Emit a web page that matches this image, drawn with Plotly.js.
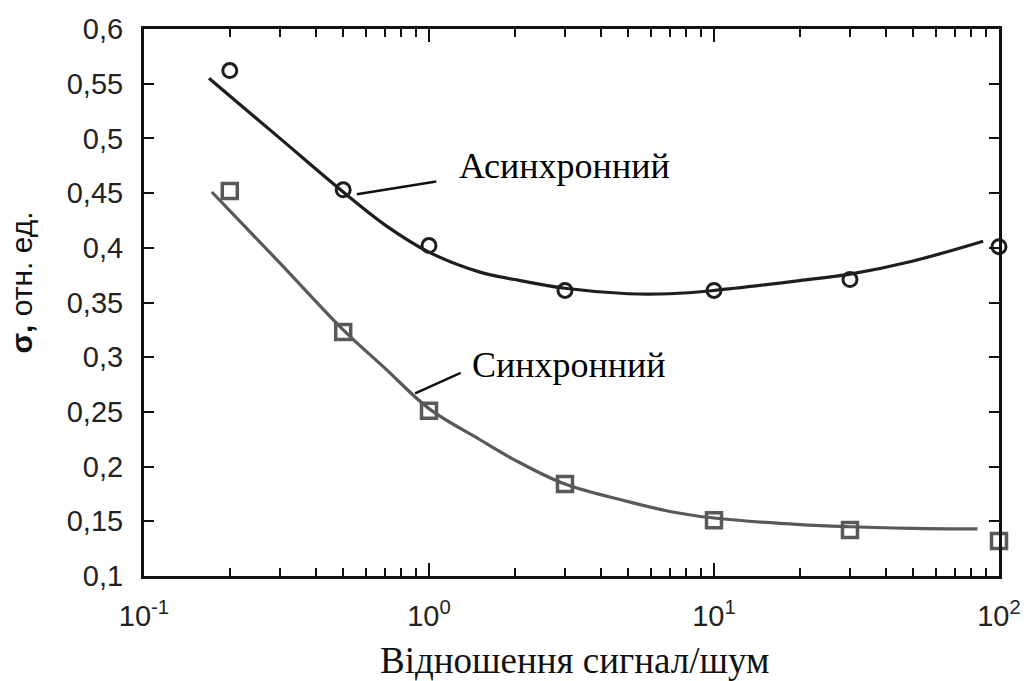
<!DOCTYPE html>
<html>
<head>
<meta charset="utf-8">
<script src="https://cdn.plot.ly/plotly-3.0.1.min.js"></script>
<style>html,body{margin:0;padding:0;background:#fff;}#chart{width:1028px;height:681px;}</style>
</head>
<body>
<div id="chart"></div>
<script>
// Measured points
const snr = [0.2, 0.5, 1, 3, 10, 30, 100];
const asyncPts = [0.562, 0.453, 0.402, 0.361, 0.361, 0.371, 0.401];
const syncPts = [0.452, 0.323, 0.251, 0.184, 0.151, 0.142, 0.132];

// Fitted curves
const asyncCurveX = [0.169, 0.3, 0.5, 0.7, 1, 1.5, 2, 3, 5, 7, 10, 20, 30, 50, 88];
const asyncCurveY = [0.555, 0.50, 0.451, 0.421, 0.396, 0.378, 0.371, 0.363, 0.358, 0.358, 0.361, 0.370, 0.376, 0.388, 0.406];
const syncCurveX = [0.173, 0.3, 0.5, 0.7, 1, 1.5, 2, 3, 5, 7, 10, 20, 30, 50, 84];
const syncCurveY = [0.451, 0.386, 0.325, 0.290, 0.253, 0.225, 0.206, 0.184, 0.168, 0.159, 0.153, 0.147, 0.145, 0.1435, 0.143];

// Ticks
const xTickVals = [0.1, 1, 10, 100];
const xTickText = ['10<sup>-1</sup>', '10<sup>0</sup>', '10<sup>1</sup>', '10<sup>2</sup>'];
const xMinorVals = [0.2,0.3,0.4,0.5,0.6,0.7,0.8,0.9, 2,3,4,5,6,7,8,9, 20,30,40,50,60,70,80,90];
const yTickVals = [0.1, 0.15, 0.2, 0.25, 0.3, 0.35, 0.4, 0.45, 0.5, 0.55, 0.6];
const yTickText = ['0,1','0,15','0,2','0,25','0,3','0,35','0,4','0,45','0,5','0,55','0,6'];

// Labels
const asyncLabel = 'Асинхронний';
const syncLabel = 'Синхронний';
const xTitle = 'Відношення сигнал/шум';
const yTitle = '<b>σ,</b> отн. ед.';
const asyncLabelPos = [3.0, 0.475];
const syncLabelPos = [3.1, 0.293];
const asyncLeader = [0.558, 0.449];
const syncLeader = [0.894, 0.267];

const darkCol = '#1e1e1e';
const grayCol = '#595959';
const serif = '"Liberation Serif", "Times New Roman", serif';
const sans = '"Liberation Sans", Arial, sans-serif';

const traces = [
  {x: asyncCurveX, y: asyncCurveY, mode: 'lines', line: {color: darkCol, width: 3.2, shape: 'spline', smoothing: 1}, hoverinfo: 'skip'},
  {x: syncCurveX, y: syncCurveY, mode: 'lines', line: {color: grayCol, width: 3.2, shape: 'spline', smoothing: 1}, hoverinfo: 'skip'},
  {x: snr, y: asyncPts, mode: 'markers', cliponaxis: false,
   marker: {symbol: 'circle-open', size: 14, color: darkCol, line: {width: 3, color: darkCol}}},
  {x: snr, y: syncPts, mode: 'markers', cliponaxis: false,
   marker: {symbol: 'square-open', size: 15, color: grayCol, line: {width: 3.5, color: grayCol}}}
];

const layout = {
  width: 1028, height: 681,
  margin: {l: 144, r: 29, t: 29, b: 105},
  paper_bgcolor: '#fff', plot_bgcolor: '#fff',
  showlegend: false,
  font: {family: sans, color: '#222'},
  xaxis: {
    type: 'log', range: [-1, 2],
    showgrid: false, zeroline: false,
    showline: true, linecolor: '#111', linewidth: 3, mirror: 'ticks',
    ticks: 'inside', ticklen: 13, tickwidth: 2, tickcolor: '#111',
    tickmode: 'array', tickvals: xTickVals, ticktext: xTickText,
    tickfont: {size: 29, family: sans, color: '#222'},
    ticklabelstandoff: 12,
    minor: {tickmode: 'array', tickvals: xMinorVals, ticks: 'inside', ticklen: 8, tickwidth: 2, tickcolor: '#111', showgrid: false}
  },
  yaxis: {
    range: [0.1, 0.6],
    showgrid: false, zeroline: false,
    showline: true, linecolor: '#111', linewidth: 3, mirror: 'ticks',
    ticks: 'inside', ticklen: 10, tickwidth: 2, tickcolor: '#111',
    tickmode: 'array', tickvals: yTickVals, ticktext: yTickText,
    tickfont: {size: 29, family: sans, color: '#222'},
    ticklabelstandoff: 12
  },
  annotations: [
    {xref: 'paper', yref: 'paper', x: 0.504, y: -0.1536, text: xTitle, showarrow: false,
     xanchor: 'center', yanchor: 'middle', font: {size: 37, family: serif, color: '#111'}},
    {xref: 'paper', yref: 'paper', x: -0.1435, y: 0.537, text: yTitle, textangle: -90, showarrow: false,
     xanchor: 'center', yanchor: 'middle', font: {size: 30, family: sans, color: '#111'}},
    {x: Math.log10(asyncLabelPos[0]), y: asyncLabelPos[1], text: asyncLabel, showarrow: false,
     xanchor: 'center', yanchor: 'middle', font: {size: 36, family: serif, color: '#000'}},
    {x: Math.log10(syncLabelPos[0]), y: syncLabelPos[1], text: syncLabel, showarrow: false,
     xanchor: 'center', yanchor: 'middle', font: {size: 36, family: serif, color: '#000'}},
    {x: Math.log10(asyncLeader[0]), y: asyncLeader[1], text: '', showarrow: true, arrowhead: 0, arrowwidth: 2.5, arrowcolor: '#111',
     ax: 81, ay: -13, standoff: 0, startstandoff: 0},
    {x: Math.log10(syncLeader[0]), y: syncLeader[1], text: '', showarrow: true, arrowhead: 0, arrowwidth: 2.5, arrowcolor: '#111',
     ax: 47, ay: -21, standoff: 0, startstandoff: 0}
  ]
};

Plotly.newPlot('chart', traces, layout, {displayModeBar: false, staticPlot: true});
</script>
</body>
</html>
